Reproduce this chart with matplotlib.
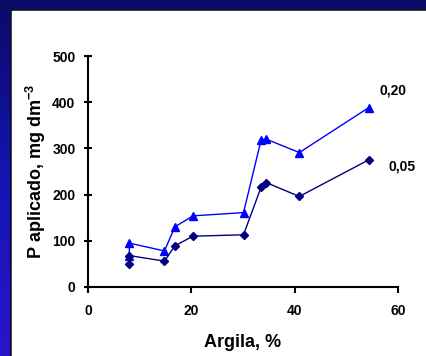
import numpy as np
import matplotlib
matplotlib.use("Agg")
from matplotlib import pyplot as plt
from matplotlib.colors import LinearSegmentedColormap

plt.rcParams['font.family'] = ['Liberation Sans', 'DejaVu Sans']
plt.rcParams['font.weight'] = 'bold'
plt.rcParams['mathtext.fontset'] = 'custom'
plt.rcParams['mathtext.rm'] = 'Liberation Sans:bold'
plt.rcParams['mathtext.bf'] = 'Liberation Sans:bold'

# argila (%) and P aplicado (mg dm-3)
argila = [8, 8, 14.8, 16.8, 20.3, 30.1, 33.5, 34.5, 40.9, 54.3]
p_020 = [68, 95, 78, 130, 154, 161, 318, 320, 291, 388]
p_005 = [50, 68, 56, 89, 110, 113, 216, 226, 196, 275]

W, H = 426, 356
fig = plt.figure(figsize=(W / 100, H / 100), dpi=100)

# blue gradient frame behind the white panel
bg = fig.add_axes([0, 0, 1, 1], zorder=-10)
bg.axis('off')
cmap = LinearSegmentedColormap.from_list('frame', ['#0a0a66', '#1414b4', '#2a14cc'])
grad = np.linspace(0, 1, 256).reshape(-1, 1)
bg.imshow(grad, aspect='auto', cmap=cmap, extent=[0, 1, 0, 1], origin='upper')
bg.set_xlim(0, 1)
bg.set_ylim(0, 1)
bg.add_patch(plt.Rectangle((10 / W, 0), 1, 1 - 9 / H, color='#101030', zorder=1))
bg.add_patch(plt.Rectangle((12 / W, 0), 1, 1 - 11 / H, color='white', zorder=2))

ax = fig.add_axes([88 / W, 1 - 287 / H, 310 / W, 231 / H])
ax.patch.set_alpha(0)

ax.plot(argila, p_020, color='#0000ff', lw=1, marker='^', ms=6)
ax.plot(argila, p_005, color='#000080', lw=1, marker='D', ms=4.5)

ax.text(59, 426, '0,20', fontsize=10, fontweight='bold', ha='center', va='center')
ax.text(60.8, 260, '0,05', fontsize=10, fontweight='bold', ha='center', va='center')

ax.set_xlim(0, 60)
ax.set_ylim(0, 500)
ax.set_xticks([0, 20, 40, 60])
ax.set_yticks([0, 100, 200, 300, 400, 500])
ax.spines['top'].set_visible(False)
ax.spines['right'].set_visible(False)
for s in ('left', 'bottom'):
    ax.spines[s].set_linewidth(1.5)
ax.tick_params(axis='x', direction='out', length=4, width=1.5, pad=8, labelsize=10)
ax.tick_params(axis='y', direction='inout', length=6, width=1.5, pad=6, labelsize=10)

ax.set_xlabel('Argila, %', fontsize=13, fontweight='bold', labelpad=12)
ax.set_ylabel(r'P aplicado, mg dm$^{-3}$', fontsize=13, fontweight='bold', labelpad=3)

fig.savefig('out.png', dpi=100)
